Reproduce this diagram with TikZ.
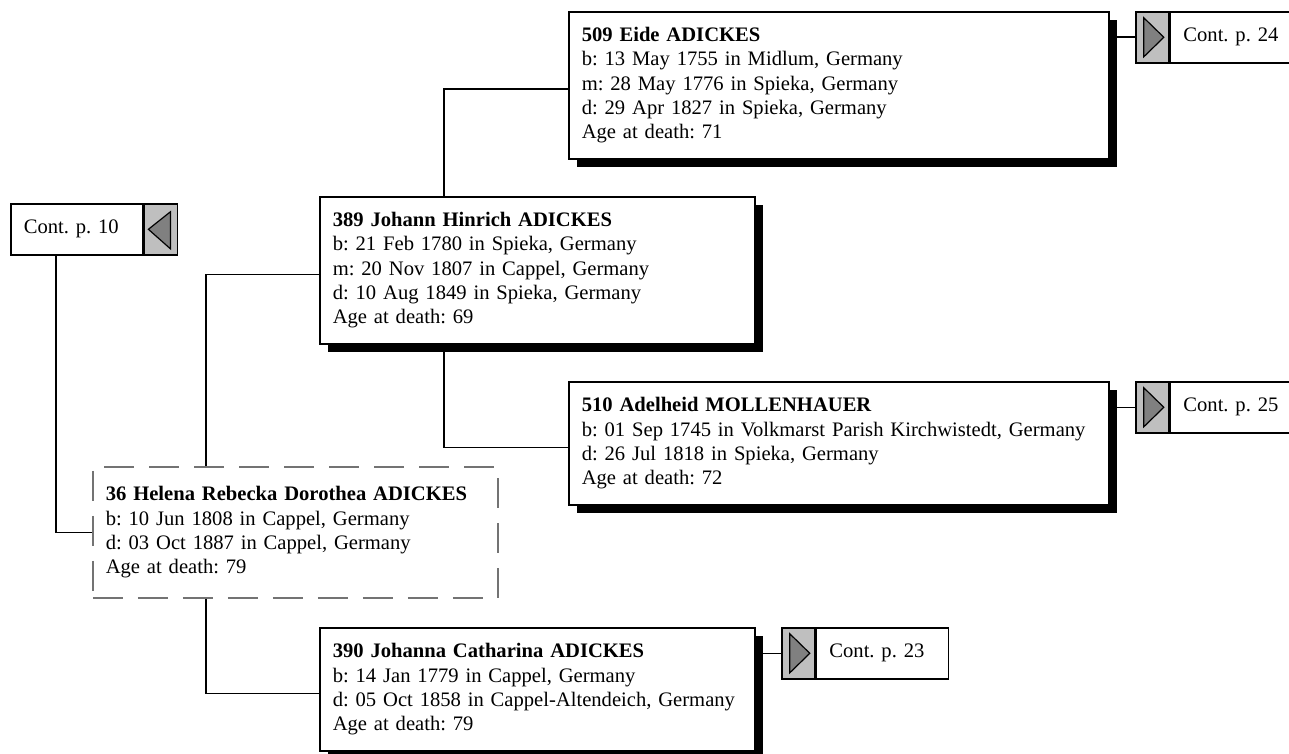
\documentclass[tikz,border=0pt]{standalone}
\usepackage{fontspec}
\setmainfont{Liberation Serif}
\usepackage{xcolor}
\colorlet{BUTTONCOLOR}{gray!50}
\colorlet{ARROWCOLOR}{gray}
\colorlet{FOCUSCOLOR}{black!55}
\usepackage{tikz}
\usetikzlibrary{positioning,shadows}
\frenchspacing
\newcommand\personFont{\fontsize{10.3pt}{12.15pt}\selectfont\hyphenpenalty=10000}
\newcommand\personName[1]{\textbf{#1}}
\tikzset{
  base-style/.style = {
    rectangle, draw, line width=0.8pt, fill=white,
    anchor=north west, align=left,
    inner xsep=6.5pt, inner ysep=0pt,
    font=\personFont
  },
  person-style/.style = {
    base-style,
    drop shadow={shadow xshift=4pt, shadow yshift=-4pt, opacity=1, fill=black}
  },
  focus-style/.style = {
    base-style, draw=FOCUSCOLOR, dash pattern=on 15pt off 7.5pt
  },
  cont-style/.style = {
    base-style, text width=53pt, minimum height=25.5pt, inner xsep=6.5pt
  },
  button-style/.style = {
    rectangle, draw, line width=0.8pt, fill=BUTTONCOLOR,
    minimum width=16.5pt, minimum height=25.5pt, inner sep=0pt
  },
  next-style/.style = {
    button-style,
    path picture={
      \draw[fill=ARROWCOLOR, line width=0.6pt]
        ([shift={(4pt,-3pt)}]path picture bounding box.north west) --
        ([shift={(4pt,3pt)}]path picture bounding box.south west) --
        ([xshift=-2.5pt]path picture bounding box.east) -- cycle;
    }
  },
  prev-style/.style = {
    button-style,
    path picture={
      \draw[fill=ARROWCOLOR, line width=0.6pt]
        ([shift={(-3.5pt,-4pt)}]path picture bounding box.north east) --
        ([shift={(-3.5pt,3pt)}]path picture bounding box.south east) --
        ([xshift=2pt]path picture bounding box.west) -- cycle;
    }
  },
  link-style/.style = {draw, line width=0.8pt}
}
\def\createPerson name:#1 at:#2 size:#3/#4 text:#5;{
  \node [person-style, text width=#3, minimum height=#4] (#1) at #2 {#5};
}
\def\createNext name:#1 at:#2 text:#3;{
  \node [next-style, anchor=north west] (#1btn) at #2 {};
  \node [cont-style, right=0pt of #1btn] (#1) {#3};
}

\begin{document}
\begin{tikzpicture}[x=0.5pt, y=-0.5pt]
  \useasboundingbox (0,0) rectangle (1289,754);

  % ancestors
  \createPerson name:p509 at:(568,11) size:257pt/73.5pt
    text:{\personName{509 Eide ADICKES}\\
      b: 13 May 1755 in Midlum, Germany\\
      m: 28 May 1776 in Spieka, Germany\\
      d: 29 Apr 1827 in Spieka, Germany\\
      Age at death: 71};
  \createPerson name:p389 at:(319,196) size:204.5pt/73.5pt
    text:{\personName{389 Johann Hinrich ADICKES}\\
      b: 21 Feb 1780 in Spieka, Germany\\
      m: 20 Nov 1807 in Cappel, Germany\\
      d: 10 Aug 1849 in Spieka, Germany\\
      Age at death: 69};
  \createPerson name:p510 at:(568,381) size:257pt/61.5pt
    text:{\personName{510 Adelheid MOLLENHAUER}\\
      b: 01 Sep 1745 in Volkmarst Parish Kirchwistedt, Germany\\
      d: 26 Jul 1818 in Spieka, Germany\\
      Age at death: 72};
  \createPerson name:p390 at:(319,627) size:204.5pt/61.5pt
    text:{\personName{390 Johanna Catharina ADICKES}\\
      b: 14 Jan 1779 in Cappel, Germany\\
      d: 05 Oct 1858 in Cappel-Altendeich, Germany\\
      Age at death: 79};

  % the person in focus
  \node [focus-style, text width=189.5pt, minimum height=65.5pt] (p36) at (92,466)
    {\personName{36 Helena Rebecka Dorothea ADICKES}\\
     b: 10 Jun 1808 in Cappel, Germany\\
     d: 03 Oct 1887 in Cappel, Germany\\
     Age at death: 79};

  % continuation boxes
  \createNext name:c24 at:(1135,11) text:{Cont. p. 24};
  \createNext name:c25 at:(1135,381) text:{Cont. p. 25};
  \createNext name:c23 at:(781,627) text:{Cont. p. 23};
  \node [cont-style] (c10) at (10,203) {Cont. p. 10};
  \node [prev-style, right=0pt of c10] (c10btn) {};

  % links
  \path[link-style] ([xshift=62.5pt]p389.north west) |- ([yshift=-2pt]p509.west);
  \path[link-style] ([xshift=62.5pt]p389.south west) |- ([yshift=-2pt]p510.west);
  \path[link-style] ([xshift=57pt]p36.north west) |- ([yshift=-2pt]p389.west);
  \path[link-style] ([xshift=57pt]p36.south west) |- ([yshift=-2pt]p390.west);
  \path[link-style] ([xshift=23pt]c10.south west) |- (p36.west);
  \path[link-style] (p509.east |- c24btn.west) -- (c24btn.west);
  \path[link-style] (p510.east |- c25btn.west) -- (c25btn.west);
  \path[link-style] (p390.east |- c23btn.west) -- (c23btn.west);
\end{tikzpicture}
\end{document}
